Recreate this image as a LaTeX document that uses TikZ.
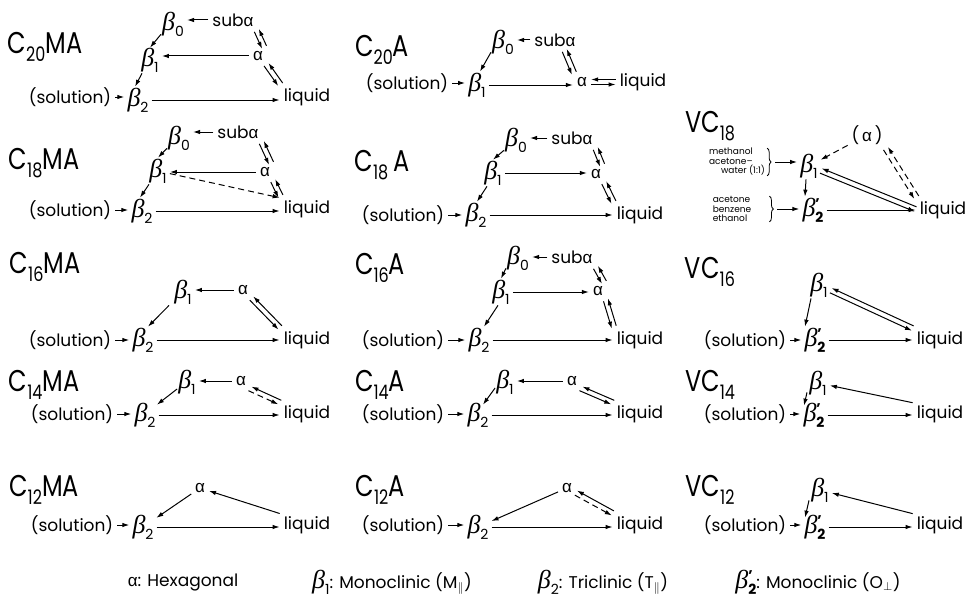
\documentclass[tikz,border=0pt]{standalone}
\usepackage{fontspec}
\setmainfont{Poppins}
\newfontfamily\ttlfamily[FakeStretch=0.8]{Poppins}
\newfontfamily\grkfamily{Liberation Sans}
\newfontfamily\betfam{Liberation Serif}
\usetikzlibrary{arrows.meta,decorations.pathreplacing}
\newcommand\labf{\fontsize{17}{17}\selectfont}
\newcommand\gkf{\fontsize{26}{26}\selectfont}
\newcommand\smf{\fontsize{9}{9.5}\selectfont}
\newcommand\alf{{\grkfamily α}}
\newcommand\bet[1]{{\betfam\itshape β}\raisebox{-6pt}{\fontsize{14}{14}\selectfont #1}}
\newcommand\betp{{\betfam\itshape β}\rlap{\raisebox{8pt}{\fontsize{14}{14}\selectfont\bfseries '}}\raisebox{-6pt}{\fontsize{14}{14}\selectfont\bfseries 2}}
\newcommand\Ttl[3]{{\ttlfamily\fontsize{30}{30}\selectfont #1\raisebox{-8pt}{\fontsize{20}{20}\selectfont #2}#3}}
\begin{document}
\begin{tikzpicture}[x=1pt,y=-1pt,
  arr/.style={-{Latex[length=7pt,width=4.5pt]},line width=1pt,shorten >=2pt,shorten <=2pt},
  arrs/.style={arr,shorten >=0pt,shorten <=0pt},
  dsh/.style={arr,dash pattern=on 6pt off 4pt},
  tc/.style={transform canvas={shift={(#1)}}},
  lab/.style={font=\labf,inner sep=2pt},
  gk/.style={font=\gkf,inner sep=1pt},
  ttl/.style={inner sep=0pt},
  sm/.style={font=\smf,inner sep=0pt,align=left},
  brc/.style={decorate,decoration={brace,amplitude=4pt},line width=0.8pt},
  lg/.style={font=\labf,inner sep=0pt}]
\fill[white] (0,0) rectangle (969,610);
\useasboundingbox (0,0) rectangle (969,610);
% ---------- C20MA
\node[ttl] (t1) at (45,47) {\Ttl{C}{20}{MA}};
\node[gk] (p1b0) at (173,24) {\bet{0}};
\node[lab] (p1sa) at (233,20) {sub\alf};
\node[gk] (p1b1) at (150,60) {\bet{1}};
\node[lab] (p1a) at (258,56) {\alf};
\node[gk] (p1b2) at (138,100) {\bet{2}};
\node[lab] (p1l) at (307,97) {liquid};
\node[lab] (p1s) at (70,97) {(solution)};
\draw[arr] (p1sa) -- (p1sa -| p1b0.east);
\draw[arrs] ([yshift=3pt]p1b0.south west) -- ([yshift=-1pt]p1b1.north);
\draw[arr] (p1a) -- (p1a -| p1b1.east);
\draw[arrs] ([xshift=-8pt]p1b1.south) -- ([xshift=-3pt]p1b2.north);
\draw[arr] (p1s) -- (p1s -| p1b2.west);
\draw[arr] (p1b2) -- (p1b2 -| p1l.west);
\draw[arr,tc={-2.2,1.5}] (p1sa.south east) -- (p1a.north east);
\draw[arr,tc={2.2,-1.5}] (p1a.north east) -- (p1sa.south east);
\draw[arr,tc={-2.2,1.5}] (p1a.south east) -- (p1l.north west);
\draw[arr,tc={2.2,-1.5}] (p1l.north west) -- (p1a.south east);
% ---------- C20A
\node[ttl] (t2) at (382,50) {\Ttl{C}{20}{A}};
\node[gk] (p2b0) at (503,42) {\bet{0}};
\node[lab] (p2sa) at (555,40) {sub\alf};
\node[gk] (p2b1) at (477,85) {\bet{1}};
\node[lab] (p2a) at (582,82) {\alf};
\node[lab] (p2l) at (643,82) {liquid};
\node[lab] (p2s) at (407,83) {(solution)};
\draw[arr] (p2sa) -- (p2sa -| p2b0.east);
\draw[arrs] ([yshift=3pt]p2b0.south west) -- ([xshift=3pt]p2b1.north);
\draw[arr] (p2s) -- (p2s -| p2b1.west);
\draw[arr] (p2b1) -- (p2b1 -| p2a.west);
\draw[arr,tc={-2.2,1.5}] ([xshift=-14pt]p2sa.south east) -- (p2a.north west);
\draw[arr,tc={2.2,-1.5}] (p2a.north west) -- ([xshift=-14pt]p2sa.south east);
\draw[arr,tc={0,-2.5}] (p2l) -- (p2l -| p2a.east);
\draw[arr,tc={0,2.5}] (p2a) -- (p2a -| p2l.west);
% ---------- C18MA
\node[ttl] (t3) at (44,163) {\Ttl{C}{18}{MA}};
\node[gk] (p3b0) at (179,138) {\bet{0}};
\node[lab] (p3sa) at (238,132) {sub\alf};
\node[gk] (p3b1) at (158,171) {\bet{1}};
\node[lab] (p3a) at (265,172) {\alf};
\node[gk] (p3b2) at (142,211) {\bet{2}};
\node[lab] (p3l) at (307,209) {liquid};
\node[lab] (p3s) at (70,210) {(solution)};
\draw[arr] (p3sa) -- (p3sa -| p3b0.east);
\draw[arrs] ([yshift=3pt]p3b0.south west) -- (p3b1.north);
\draw[arr] (p3a) -- (p3a -| p3b1.east);
\draw[arrs] ([xshift=-9pt]p3b1.south) -- ([xshift=-2pt]p3b2.north);
\draw[arr] (p3s) -- (p3s -| p3b2.west);
\draw[arr] (p3b2) -- (p3b2 -| p3l.west);
\draw[dsh] (p3b1) -- (p3l.north west);
\draw[arr,tc={-2.2,1.5}] (p3sa.south east) -- (p3a.north east);
\draw[arr,tc={2.2,-1.5}] (p3a.north east) -- (p3sa.south east);
\draw[arr,tc={-2.2,1.5}] (p3a.south east) -- (p3l.north west);
\draw[arr,tc={2.2,-1.5}] (p3l.north west) -- (p3a.south east);
% ---------- C18A
\node[ttl] (t4) at (382,165) {\Ttl{C}{18}{\,A}};
\node[gk] (p4b0) at (516,140) {\bet{0}};
\node[lab] (p4sa) at (572,138) {sub\alf};
\node[gk] (p4b1) at (493,173) {\bet{1}};
\node[lab] (p4a) at (596,174) {\alf};
\node[gk] (p4b2) at (476,215) {\bet{2}};
\node[lab] (p4l) at (640,215) {liquid};
\node[lab] (p4s) at (403,215) {(solution)};
\draw[arr] (p4sa) -- (p4sa -| p4b0.east);
\draw[arrs] ([yshift=3pt]p4b0.south west) -- (p4b1.north);
\draw[arr] (p4b1) -- (p4b1 -| p4a.west);
\draw[arrs] ([xshift=-6pt]p4b1.south) -- ([xshift=1pt]p4b2.north);
\draw[arr] (p4s) -- (p4s -| p4b2.west);
\draw[arr] (p4b2) -- (p4b2 -| p4l.west);
\draw[arr,tc={-2.2,1.5}] (p4sa.south east) -- (p4a.north east);
\draw[arr,tc={2.2,-1.5}] (p4a.north east) -- (p4sa.south east);
\draw[arr,tc={-2.2,1.5}] (p4a.south east) -- (p4l.north west);
\draw[arr,tc={2.2,-1.5}] (p4l.north west) -- (p4a.south east);
% ---------- VC18
\node[ttl] (t5) at (710,126) {\Ttl{VC}{18}{}};
\node[lab] (p5pa) at (867,135) {(\,\alf\,)};
\node[gk] (p5b1) at (809,166) {\bet{1}};
\node[gk] (p5b2) at (813,210) {\betp};
\node[lab] (p5l) at (943,210) {liquid};
\node[sm] (p5m1) at (737,162) {methanol\\acetone--\\\hspace*{12pt}water (1:1)};
\node[sm] (p5m2) at (732,209) {acetone\\benzene\\ethanol};
\draw[brc] ([xshift=2pt]p5m1.north east) -- ([xshift=2pt]p5m1.south east);
\coordinate (p5c1) at ([xshift=8pt]p5m1.east);
\draw[brc] ([xshift=18pt]p5m2.north east) -- ([xshift=18pt]p5m2.south east);
\coordinate (p5c2) at ([xshift=24pt]p5m2.east);
\draw[arr] (p5c1) -- (p5c1 -| p5b1.west);
\draw[arr] (p5c2) -- (p5c2 -| p5b2.west);
\draw[dsh] (p5pa) -- (p5b1);
\draw[dsh,tc={-2.2,1.5}] (p5pa.south east) -- (p5l.north west);
\draw[dsh,tc={2.2,-1.5}] (p5l.north west) -- (p5pa.south east);
\draw[arr,tc={0.8,-2.4}] (p5l.west) -- (p5b1);
\draw[arr,tc={-0.8,2.4}] (p5b1) -- (p5l.west);
\draw[arrs] ([xshift=-3pt]p5b1.south) -- ([xshift=-8pt]p5b2.north);
\draw[arr] (p5b2) -- (p5b2 -| p5l.west);
% ---------- C16MA
\node[ttl] (t6) at (45,267) {\Ttl{C}{16}{MA}};
\node[gk] (p6b1) at (183,292) {\bet{1}};
\node[lab] (p6a) at (243,290) {\alf};
\node[gk] (p6b2) at (143,340) {\bet{2}};
\node[lab] (p6l) at (307,340) {liquid};
\node[lab] (p6s) at (70,340) {(solution)};
\draw[arr] (p6a) -- (p6a -| p6b1.east);
\draw[arrs] ([xshift=-4pt]p6b1.south west) -- ([xshift=5pt]p6b2.north);
\draw[arr] (p6s) -- (p6s -| p6b2.west);
\draw[arr] (p6b2) -- (p6b2 -| p6l.west);
\draw[arr,tc={-1.7,1.9}] (p6a.south east) -- (p6l.north west);
\draw[arr,tc={1.7,-1.9}] (p6l.north west) -- (p6a.south east);
% ---------- C16A
\node[ttl] (t7) at (380,268) {\Ttl{C}{16}{A}};
\node[gk] (p7b0) at (518,258) {\bet{0}};
\node[lab] (p7sa) at (572,257) {sub\alf};
\node[gk] (p7b1) at (501,292) {\bet{1}};
\node[lab] (p7a) at (598,291) {\alf};
\node[gk] (p7b2) at (479,340) {\bet{2}};
\node[lab] (p7l) at (640,340) {liquid};
\node[lab] (p7s) at (403,340) {(solution)};
\draw[arr] (p7sa) -- (p7sa -| p7b0.east);
\draw[arrs] ([yshift=3pt]p7b0.south west) -- (p7b1.north);
\draw[arr] (p7b1) -- (p7b1 -| p7a.west);
\draw[arrs] ([xshift=-3pt]p7b1.south) -- ([xshift=5pt]p7b2.north);
\draw[arr] (p7s) -- (p7s -| p7b2.west);
\draw[arr] (p7b2) -- (p7b2 -| p7l.west);
\draw[arr,tc={-2.2,1.5}] (p7sa.south east) -- (p7a.north east);
\draw[arr,tc={2.2,-1.5}] (p7a.north east) -- (p7sa.south east);
\draw[arr,tc={-2.2,1.5}] (p7a.south east) -- (p7l.north west);
\draw[arr,tc={2.2,-1.5}] (p7l.north west) -- (p7a.south east);
% ---------- VC16
\node[ttl] (t8) at (710,272) {\Ttl{VC}{16}{}};
\node[gk] (p8b1) at (819,285) {\bet{1}};
\node[gk] (p8b2) at (815,340) {\betp};
\node[lab] (p8s) at (745,340) {(solution)};
\node[lab] (p8l) at (940,340) {liquid};
\draw[arr,tc={0.8,-2.4}] (p8l.north west) -- (p8b1);
\draw[arr,tc={-0.8,2.4}] (p8b1) -- (p8l.north west);
\draw[arrs] ([xshift=-8pt]p8b1.south) -- ([xshift=-10pt]p8b2.north);
\draw[arr] (p8s) -- (p8s -| p8b2.west);
\draw[arr] (p8b2) -- (p8b2 -| p8l.west);
% ---------- C14MA
\node[ttl] (t9) at (44,385) {\Ttl{C}{14}{MA}};
\node[gk] (p9b1) at (187,382) {\bet{1}};
\node[lab] (p9a) at (241,381) {\alf};
\node[gk] (p9b2) at (145,415) {\bet{2}};
\node[lab] (p9l) at (307,414) {liquid};
\node[lab] (p9s) at (72,414) {(solution)};
\draw[arr] (p9a) -- (p9a -| p9b1.east);
\draw[arrs] ([yshift=-7pt]p9b1.west) -- ([xshift=12pt,yshift=-3pt]p9b2.north);
\draw[arr] (p9s) -- (p9s -| p9b2.west);
\draw[arr] (p9b2) -- (p9b2 -| p9l.west);
\draw[arr,tc={1.5,-2}] (p9l.north west) -- (p9a.south east);
\draw[dsh,tc={-1.5,2}] (p9a.south east) -- (p9l.north west);
% ---------- C14A
\node[ttl] (t10) at (380,385) {\Ttl{C}{14}{A}};
\node[gk] (p10b1) at (505,382) {\bet{1}};
\node[lab] (p10a) at (572,381) {\alf};
\node[gk] (p10b2) at (478,415) {\bet{2}};
\node[lab] (p10l) at (640,414) {liquid};
\node[lab] (p10s) at (403,414) {(solution)};
\draw[arr] (p10a) -- (p10a -| p10b1.east);
\draw[arrs] ([yshift=-6pt]p10b1.west) -- ([xshift=5pt,yshift=-3pt]p10b2.north);
\draw[arr] (p10s) -- (p10s -| p10b2.west);
\draw[arr] (p10b2) -- (p10b2 -| p10l.west);
\draw[arr,tc={1.5,-2}] (p10l.north west) -- (p10a.south east);
\draw[arr,tc={-1.5,2}] (p10a.south east) -- (p10l.north west);
% ---------- VC14
\node[ttl] (t11) at (710,385) {\Ttl{VC}{14}{}};
\node[gk] (p11b1) at (818,383) {\bet{1}};
\node[gk] (p11b2) at (814,415) {\betp};
\node[lab] (p11s) at (745,414) {(solution)};
\node[lab] (p11l) at (940,414) {liquid};
\draw[arr] (p11l.north west) -- (p11b1);
\draw[arrs] ([xshift=-11pt,yshift=4pt]p11b1.south) -- ([xshift=-10pt,yshift=-4pt]p11b2.north);
\draw[arr] (p11s) -- (p11s -| p11b2.west);
\draw[arr] (p11b2) -- (p11b2 -| p11l.west);
% ---------- C12MA
\node[ttl] (t12) at (44,490) {\Ttl{C}{12}{MA}};
\node[lab] (p12a) at (200,488) {\alf};
\node[gk] (p12b2) at (143,527) {\bet{2}};
\node[lab] (p12l) at (307,525) {liquid};
\node[lab] (p12s) at (72,525) {(solution)};
\draw[arr] (p12a) -- (p12b2);
\draw[arr] (p12l.north west) -- (p12a);
\draw[arr] (p12s) -- (p12s -| p12b2.west);
\draw[arr] (p12b2) -- (p12b2 -| p12l.west);
% ---------- C12A
\node[ttl] (t13) at (380,490) {\Ttl{C}{12}{A}};
\node[lab] (p13a) at (567,488) {\alf};
\node[gk] (p13b2) at (478,527) {\bet{2}};
\node[lab] (p13l) at (640,525) {liquid};
\node[lab] (p13s) at (403,525) {(solution)};
\draw[arr] (p13a) -- (p13b2);
\draw[arr,tc={1,-2.3}] (p13l.north west) -- (p13a);
\draw[dsh,tc={-1,2.3}] (p13a) -- (p13l.north west);
\draw[arr] (p13s) -- (p13s -| p13b2.west);
\draw[arr] (p13b2) -- (p13b2 -| p13l.west);
% ---------- VC12
\node[ttl] (t14) at (710,490) {\Ttl{VC}{12}{}};
\node[gk] (p14b1) at (820,490) {\bet{1}};
\node[gk] (p14b2) at (815,527) {\betp};
\node[lab] (p14s) at (745,525) {(solution)};
\node[lab] (p14l) at (940,525) {liquid};
\draw[arr] (p14l.north west) -- (p14b1);
\draw[arrs] ([xshift=-11pt,yshift=3pt]p14b1.south) -- ([xshift=-10pt,yshift=-4pt]p14b2.north);
\draw[arr] (p14s) -- (p14s -| p14b2.west);
\draw[arr] (p14b2) -- (p14b2 -| p14l.west);
% ---------- legend
\node[lg] (lg1) at (183,582) {\alf: Hexagonal};
\node[lg] (lg2) at (392,582) {{\gkf\bet{1}}: Monoclinic (M$_{\|}$)};
\node[lg] (lg3) at (603,582) {{\gkf\bet{2}}: Triclinic (T$_{\|}$)};
\node[lg] (lg4) at (818,582) {{\gkf\betp}: Monoclinic (O$_{\perp}$)};
\end{tikzpicture}
\end{document}
